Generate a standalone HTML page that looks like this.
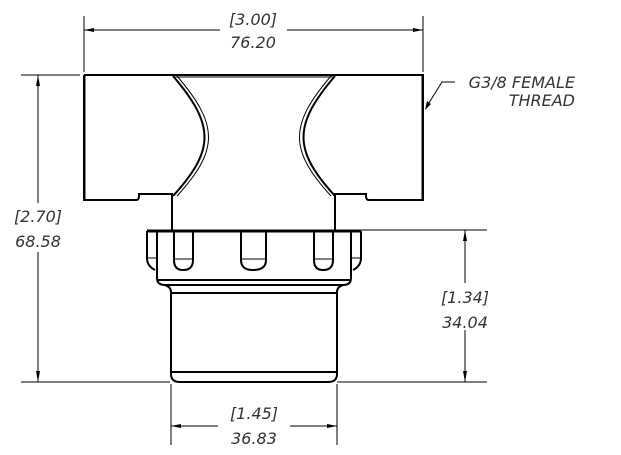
<!DOCTYPE html>
<html><head><style>
html,body{margin:0;padding:0;background:#fff;}
svg{display:block;}
text{font-family:"DejaVu Sans","Liberation Sans",sans-serif;font-style:italic;fill:#333;font-size:16px;}
</style></head><body>
<svg width="621" height="455" viewBox="0 0 621 455" xmlns="http://www.w3.org/2000/svg">
<g stroke="#000" fill="none" stroke-width="1">
  <line x1="84" y1="16" x2="84" y2="72"/>
  <line x1="423" y1="16" x2="423" y2="72"/>
  <line x1="84" y1="30" x2="220" y2="30"/>
  <line x1="287" y1="30" x2="423" y2="30"/>
  <line x1="21" y1="75" x2="80" y2="75"/>
  <line x1="21" y1="382" x2="170" y2="382"/>
  <line x1="38" y1="75" x2="38" y2="203"/>
  <line x1="38" y1="252" x2="38" y2="382"/>
  <line x1="361" y1="230" x2="487" y2="230"/>
  <line x1="337" y1="382" x2="487" y2="382"/>
  <line x1="465" y1="230" x2="465" y2="283"/>
  <line x1="465" y1="330" x2="465" y2="382"/>
  <line x1="171" y1="384" x2="171" y2="445"/>
  <line x1="337" y1="384" x2="337" y2="445"/>
  <line x1="171" y1="426" x2="218" y2="426"/>
  <line x1="290" y1="426" x2="337" y2="426"/>
  <polyline points="455,82 442,82 427,106"/>
</g>
<g fill="#000">
  <polygon points="84,30 94,28 94,32"/>
  <polygon points="423,30 413,28 413,32"/>
  <polygon points="38,75 36,86 40,86"/>
  <polygon points="38,382 36,371 40,371"/>
  <polygon points="465,230 463,241 467,241"/>
  <polygon points="465,382 463,371 467,371"/>
  <polygon points="171,426 181,424 181,428"/>
  <polygon points="337,426 327,424 327,428"/>
  <polygon points="425,110 427,101 431,104"/>
</g>
<g stroke="#000" fill="none" stroke-width="2">
  <path d="M84,75 H423 V200 H369 Q366,200 366,196 V194 H335 V230"/>
  <path d="M84,75 V200 H136 Q139,200 139,196 V194 H172 V230"/>
  <line x1="85" y1="76" x2="85" y2="199" stroke-width="1"/>
  <path d="M173,76 C215,125 215,150 173,196"/>
  <path d="M335,76 C293,125 293,150 335,196"/>
  <path d="M177,76 C219,125 219,150 177,196" stroke-width="1"/>
  <path d="M331,76 C289,125 289,150 331,196" stroke-width="1"/>
  <line x1="173" y1="77" x2="335" y2="77" stroke-width="1"/>
  <line x1="422" y1="76" x2="422" y2="199" stroke-width="1"/>
  <line x1="147" y1="231" x2="361" y2="231" stroke-width="3"/>
  <path d="M147,231 V258 Q147,266 155,270"/>
  <path d="M361,231 V258 Q361,266 353,270"/>
  <path d="M157,231 V278 Q157,285 165,285 H343 Q351,285 351,278 V231"/>
  <line x1="147" y1="258" x2="157" y2="258" stroke-width="1"/>
  <line x1="351" y1="258" x2="361" y2="258" stroke-width="1"/>
  <line x1="157" y1="280" x2="351" y2="280"/>
  <path d="M174,231 V260 Q174,270 183,270 Q193,270 193,260 V231"/>
  <line x1="174" y1="259" x2="193" y2="259" stroke-width="1"/>
  <path d="M241,231 V260 Q241,270 253,270 Q266,270 266,260 V231"/>
  <line x1="241" y1="259" x2="266" y2="259" stroke-width="1"/>
  <path d="M314,231 V260 Q314,270 323,270 Q333,270 333,260 V231"/>
  <line x1="314" y1="259" x2="333" y2="259" stroke-width="1"/>
  <path d="M165,285 Q171,287 171,292 V374 Q171,382 180,382 H328 Q337,382 337,374 V292 Q337,287 343,285"/>
  <line x1="171" y1="293" x2="337" y2="293"/>
  <line x1="171" y1="372" x2="337" y2="372"/>
</g>
<text x="253" y="25" text-anchor="middle">[3.00]</text>
<text x="253" y="48" text-anchor="middle">76.20</text>
<text x="38" y="222" text-anchor="middle">[2.70]</text>
<text x="38" y="247" text-anchor="middle">68.58</text>
<text x="465" y="303" text-anchor="middle">[1.34]</text>
<text x="465" y="328" text-anchor="middle">34.04</text>
<text x="254" y="419" text-anchor="middle">[1.45]</text>
<text x="254" y="444" text-anchor="middle">36.83</text>
<text x="575" y="88" text-anchor="end">G3/8 FEMALE</text>
<text x="575" y="106" text-anchor="end">THREAD</text>
</svg>
</body></html>
